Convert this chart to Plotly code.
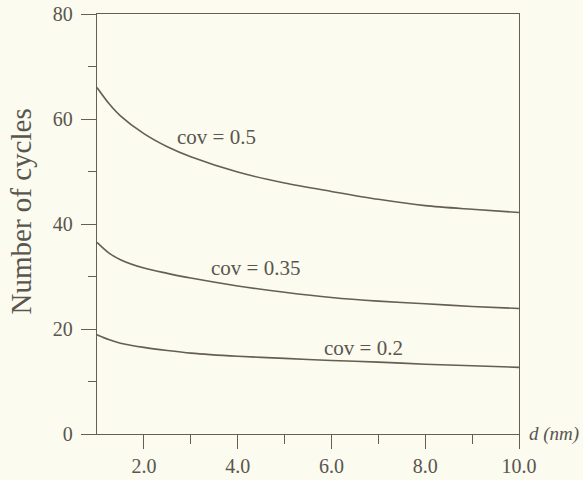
import plotly.graph_objects as go

d_nm = [1.0, 1.25, 1.5, 2.0, 2.5, 3.0, 4.0, 5.0, 6.0, 7.0, 8.0, 9.0, 10.0]
cycles_cov05 = [66.0, 63.0, 60.6, 57.2, 54.7, 52.8, 49.9, 47.8, 46.2, 44.7, 43.5, 42.8, 42.2]
cycles_cov035 = [36.5, 34.5, 33.2, 31.6, 30.6, 29.7, 28.2, 27.0, 26.0, 25.3, 24.8, 24.3, 23.9]
cycles_cov02 = [18.9, 18.0, 17.3, 16.5, 15.9, 15.4, 14.8, 14.4, 14.0, 13.7, 13.3, 13.0, 12.7]

series_labels = ["cov = 0.5", "cov = 0.35", "cov = 0.2"]
label_x = [3.55, 4.38, 6.68]
label_y = [56.6, 31.6, 16.3]

x_tickvals = [2, 4, 6, 8, 10]
x_ticktext = ["2.0", "4.0", "6.0", "8.0", "10.0"]
y_tickvals = [0, 20, 40, 60, 80]

bg = "#fbfbef"
ink = "#655e52"
txt = "#5a554e"
font_family = "Liberation Serif, Times New Roman, serif"

fig = go.Figure()
for ys in [cycles_cov05, cycles_cov035, cycles_cov02]:
    fig.add_trace(go.Scatter(x=d_nm, y=ys, mode="lines",
                             line=dict(color=ink, width=1.6, shape="spline", smoothing=0.8),
                             showlegend=False, hoverinfo="skip"))

for lab, lx, ly in zip(series_labels, label_x, label_y):
    fig.add_annotation(x=lx, y=ly, text=lab, showarrow=False,
                       font=dict(family=font_family, size=21, color=txt))

fig.add_annotation(xref="paper", yref="paper", x=1.02, y=0.0, xanchor="left", yanchor="middle",
                   text="<i>d (nm)</i>", showarrow=False,
                   font=dict(family=font_family, size=19, color=txt))
fig.add_annotation(xref="paper", yref="paper", x=-0.18, y=0.53, xanchor="center", yanchor="middle",
                   text="Number of cycles", textangle=-90, showarrow=False,
                   font=dict(family=font_family, size=29, color=txt))

fig.update_layout(
    width=583, height=480,
    margin=dict(l=97, r=64, t=14, b=46, autoexpand=False),
    paper_bgcolor=bg, plot_bgcolor=bg,
    font=dict(family=font_family, color=txt),
)
fig.update_xaxes(range=[1, 10], tickvals=x_tickvals, ticktext=x_ticktext,
                 ticks="outside", ticklen=14, tickwidth=1.3, tickcolor=ink,
                 minor=dict(tickvals=[3, 5, 7, 9], ticks="outside", ticklen=9, tickwidth=1.3, tickcolor=ink),
                 showline=True, linecolor=ink, linewidth=1.3, mirror=True,
                 showgrid=False, zeroline=False, automargin=False,
                 tickfont=dict(family=font_family, size=20, color=txt))
fig.update_yaxes(range=[0, 80], tickvals=y_tickvals,
                 ticks="outside", ticklen=15, tickwidth=1.3, tickcolor=ink,
                 minor=dict(tickvals=[10, 30, 50, 70], ticks="outside", ticklen=8, tickwidth=1.3, tickcolor=ink),
                 showline=True, linecolor=ink, linewidth=1.3, mirror=True,
                 showgrid=False, zeroline=False, ticklabelstandoff=4, automargin=False,
                 tickfont=dict(family=font_family, size=20, color=txt))

fig.write_html("out.html")
